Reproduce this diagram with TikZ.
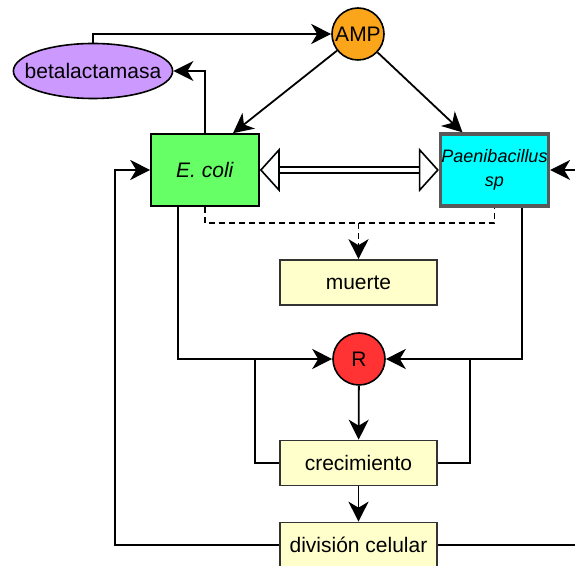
\documentclass[tikz,border=0pt]{standalone}
\usepackage{fontspec}
\setmainfont{Liberation Sans}
\usepackage{tikz}
\usetikzlibrary{arrows.meta,positioning,shapes.geometric}
\definecolor{amporange}{HTML}{FBA51A}
\definecolor{betalila}{HTML}{CC99FF}
\definecolor{ecoligreen}{HTML}{66FF66}
\definecolor{paenicyan}{HTML}{00FFFF}
\definecolor{rred}{HTML}{FF3333}
\definecolor{paleyellow}{HTML}{FFFFCC}

\begin{document}
\begin{tikzpicture}[
    x=0.5pt, y=-0.5pt,
    lbl/.style={font=\fontsize{10.5}{12}\selectfont},
    proc/.style={rectangle, draw=black!80, line width=0.8pt, fill=paleyellow,
                 minimum width=78.5pt, minimum height=22.5pt, lbl},
    org/.style={rectangle, draw, line width=0.8pt, minimum width=54pt,
                minimum height=36pt},
    blob/.style={circle, draw, line width=0.8pt, minimum size=26pt, inner sep=0pt, lbl},
    arr/.style={-{Stealth[length=10pt, width=10pt, inset=3pt]}, line width=0.9pt},
    conn/.style={line width=0.9pt},
    dashconn/.style={line width=0.9pt, dash pattern=on 3pt off 2pt},
    hollow/.style={{Triangle[open, length=10pt, width=22pt]}-{Triangle[open, length=10pt, width=22pt]},
                   double, double distance=2.2pt, line width=0.8pt},
]
    \clip (0,0) rectangle (575,566);

    \node[blob, fill=amporange] (amp) at (358,34) {AMP};
    \node[ellipse, draw, line width=0.8pt, fill=betalila, inner xsep=-6pt,
          inner ysep=0pt, minimum height=27.5pt, lbl] (beta) at (93,71) {betalactamasa};
    \node[org, fill=ecoligreen, lbl] (ecoli) at (205,170) {\textit{E. coli}};
    \node[org, fill=paenicyan, draw=black!65, line width=1.6pt, text width=54pt,
          inner sep=0pt, align=center, font=\fontsize{9}{12}\selectfont\itshape]
          (paeni) at (494.5,170) {Paenibacillus\\sp};
    \node[proc] (muerte) at (358.5,282.5) {muerte};
    \node[blob, fill=rred] (r) at (359,359) {R};
    \node[proc] (crec) at (358.5,463) {crecimiento};
    \node[proc] (div) at (358.5,545) {división celular};

    \coordinate[above=18pt of muerte.north] (djoin);
    \coordinate (lfb) at (255,359);
    \coordinate (rfb) at (470,359);
    \coordinate (lloop) at (115,545);
    \coordinate (rloop) at (600,545);

    \draw[arr] (beta.north) |- (amp.west);
    \draw[arr] (ecoli.north) |- (beta.east);
    \draw[arr] (amp) -- ([xshift=14pt]ecoli.north);
    \draw[arr] (amp) -- ([xshift=-16pt]paeni.north);
    \draw[hollow] (ecoli) -- (paeni);

    \draw[dashconn] (ecoli.south) |- (djoin) -| (paeni.south);
    \draw[dashconn, arr] (djoin) -- (muerte.north);

    \draw[arr] ([xshift=-13.5pt]ecoli.south) |- (r.west);
    \draw[arr] ([xshift=13.75pt]paeni.south) |- (r.east);
    \draw[conn] (crec.west) -| (lfb);
    \draw[conn] (crec.east) -| (rfb);
    \draw[arr] (r) -- (crec);
    \draw[arr] (crec) -- (div);

    \draw[arr] (div.west) -- (lloop) |- (ecoli.west);
    \draw[arr] (div.east) -- (rloop) |- (paeni.east);
\end{tikzpicture}
\end{document}
